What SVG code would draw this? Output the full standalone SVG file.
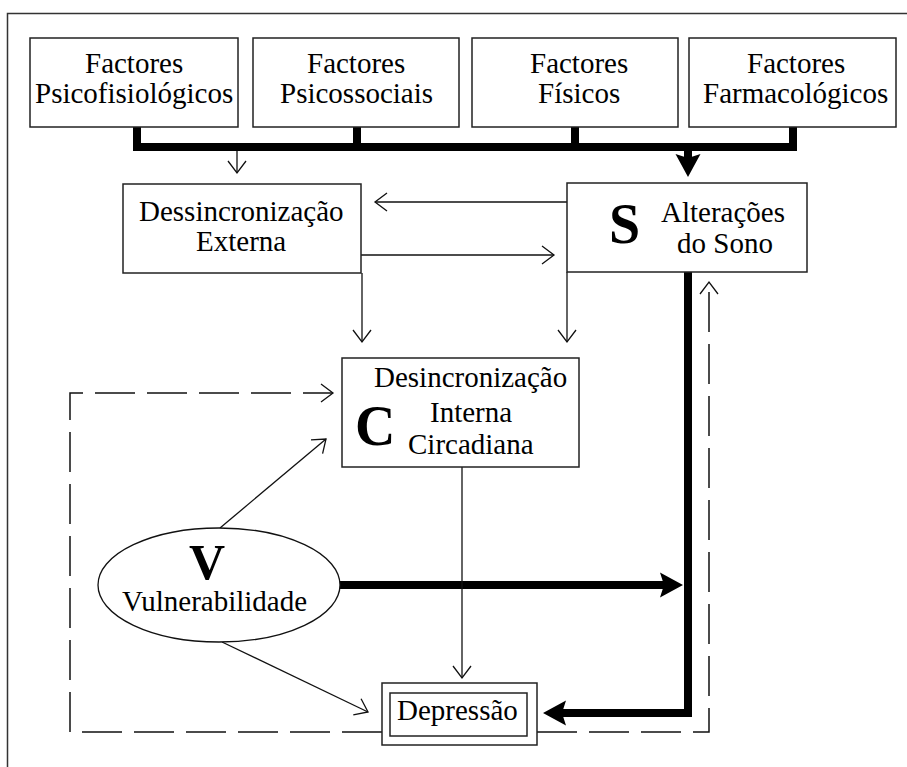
<svg xmlns="http://www.w3.org/2000/svg" width="907" height="767" viewBox="0 0 907 767">
<defs>
<marker id="open" markerUnits="userSpaceOnUse" viewBox="-14 -11 16 22" refX="0" refY="0" markerWidth="16" markerHeight="22" orient="auto">
<path d="M-12,-9 L0,0 L-12,9" fill="none" stroke="#111" stroke-width="1.3"/>
</marker>
<marker id="solid" markerUnits="userSpaceOnUse" viewBox="-10 -14 28 28" refX="0" refY="0" markerWidth="28" markerHeight="28" orient="auto">
<path d="M16,0 L-7,-12.5 L-3,0 L-7,12.5 Z" fill="#000"/>
</marker>
</defs>
<rect x="0" y="0" width="907" height="767" fill="#fff"/>
<rect x="7.5" y="13.5" width="1000" height="1000" fill="#fff" stroke="#333" stroke-width="1.5"/>

<g id="connectors" fill="none" stroke="#111">
<g stroke="#000" stroke-width="8">
<path d="M137,127 L137,147 L793,147 L793,127"/>
<path d="M357,127 L357,147"/>
<path d="M575,127 L575,147"/>
<path d="M688,147 L688,161" marker-end="url(#solid)"/>
<path d="M340,585 L667,585" marker-end="url(#solid)"/>
<path d="M688,272 L688,713 L559,713" marker-end="url(#solid)"/>
</g>
<g stroke-width="1.3">
<path d="M237,151 L237,173" marker-end="url(#open)"/>
<path d="M567,202 L375,202" marker-end="url(#open)"/>
<path d="M361,255 L554,255" marker-end="url(#open)"/>
<path d="M362,273 L362,342" marker-end="url(#open)"/>
<path d="M567,272 L567,342" marker-end="url(#open)"/>
<path d="M220,528 L326,439" marker-end="url(#open)"/>
<path d="M222,642 L368,712" marker-end="url(#open)"/>
<path d="M462,467 L462,678" marker-end="url(#open)"/>
</g>
<g stroke-width="1.5" stroke-dasharray="40 12">
<path d="M382,732 L70,732 L70,393 L333,393" marker-end="url(#open)"/>
<path d="M537,732 L709,732 L709,282" marker-end="url(#open)"/>
</g>
</g>

<g id="factores-psicofisiologicos">
<rect x="30" y="38" width="208" height="89" fill="#fff" stroke="#222" stroke-width="1.5"/>
<text x="85" y="73" font-family="Liberation Serif" font-size="29">Factores</text>
<text x="35" y="103" font-family="Liberation Serif" font-size="29">Psicofisiológicos</text>
</g>
<g id="factores-psicossociais">
<rect x="253" y="38" width="206" height="89" fill="#fff" stroke="#222" stroke-width="1.5"/>
<text x="307" y="73" font-family="Liberation Serif" font-size="29">Factores</text>
<text x="280" y="103" font-family="Liberation Serif" font-size="29">Psicossociais</text>
</g>
<g id="factores-fisicos">
<rect x="472" y="38" width="206" height="89" fill="#fff" stroke="#222" stroke-width="1.5"/>
<text x="530" y="73" font-family="Liberation Serif" font-size="29">Factores</text>
<text x="538" y="103" font-family="Liberation Serif" font-size="29">Físicos</text>
</g>
<g id="factores-farmacologicos">
<rect x="689" y="38" width="207" height="89" fill="#fff" stroke="#222" stroke-width="1.5"/>
<text x="747" y="73" font-family="Liberation Serif" font-size="29">Factores</text>
<text x="703" y="103" font-family="Liberation Serif" font-size="29">Farmacológicos</text>
</g>
<g id="dessincronizacao-externa">
<rect x="123" y="184" width="238" height="89" fill="#fff" stroke="#222" stroke-width="1.5"/>
<text x="139" y="221" font-family="Liberation Serif" font-size="29">Dessincronização</text>
<text x="196" y="251" font-family="Liberation Serif" font-size="29">Externa</text>
</g>
<g id="alteracoes-sono">
<rect x="567" y="183" width="240" height="89" fill="#fff" stroke="#222" stroke-width="1.5"/>
<text x="609" y="243" font-family="Liberation Serif" font-size="56" font-weight="bold">S</text>
<text x="661" y="222" font-family="Liberation Serif" font-size="29">Alterações</text>
<text x="677" y="253" font-family="Liberation Serif" font-size="29">do Sono</text>
</g>
<g id="desincronizacao-interna">
<rect x="342" y="358" width="237" height="109" fill="#fff" stroke="#222" stroke-width="1.5"/>
<text x="355" y="445" font-family="Liberation Serif" font-size="56" font-weight="bold">C</text>
<text x="374" y="387" font-family="Liberation Serif" font-size="29">Desincronização</text>
<text x="430" y="422" font-family="Liberation Serif" font-size="29">Interna</text>
<text x="408" y="454" font-family="Liberation Serif" font-size="29">Circadiana</text>
</g>
<g id="vulnerabilidade">
<ellipse cx="219" cy="585" rx="121" ry="57" fill="#fff" stroke="#111" stroke-width="1.3"/>
<text x="189" y="579" font-family="Liberation Serif" font-size="50" font-weight="bold">V</text>
<text x="122" y="611" font-family="Liberation Serif" font-size="29">Vulnerabilidade</text>
</g>
<g id="depressao">
<rect x="382" y="683" width="155" height="62" fill="#fff" stroke="#222" stroke-width="1.5"/>
<rect x="390" y="693" width="137" height="43" fill="#fff" stroke="#222" stroke-width="1.5"/>
<text x="397" y="720" font-family="Liberation Serif" font-size="29">Depressão</text>
</g>
</svg>
